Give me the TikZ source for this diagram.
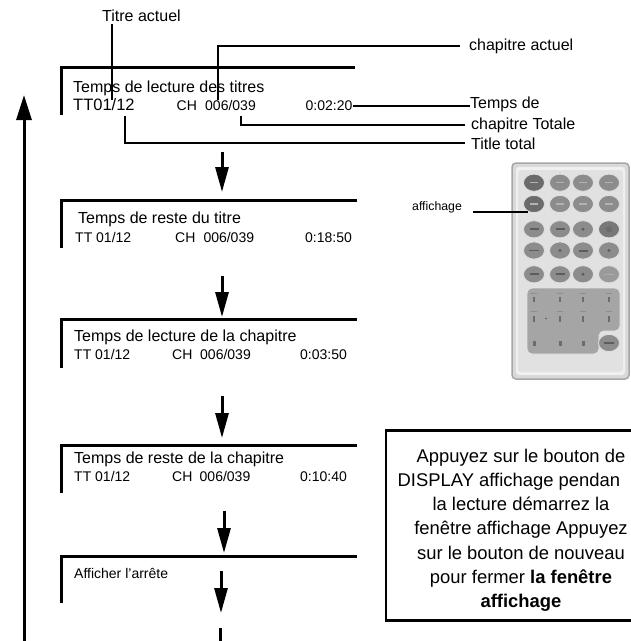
\documentclass[tikz,border=0pt]{standalone}
\usepackage{fontspec}
\setmainfont{Liberation Sans}
\usetikzlibrary{arrows.meta,calc}

\definecolor{bodygray}{HTML}{D9D9D9}
\definecolor{rimgray}{HTML}{A6A6A6}
\definecolor{btndark}{HTML}{6B6B6B}
\definecolor{btnmid}{HTML}{8C8C8C}
\definecolor{btnlight}{HTML}{9A9A9A}
\definecolor{padgray}{HTML}{A5A5A5}
\definecolor{markgray}{HTML}{5C5C5C}

\tikzset{
  panelline/.style={line width=3pt, line join=miter},
  lead/.style={line width=2pt},
  flow/.style={line width=3pt, -{Triangle[length=25pt,width=13pt]}},
  loopflow/.style={line width=3pt, -{Triangle[length=25pt,width=15pt]}},
  title/.style={inner sep=0pt, anchor=base west, font=\fontsize{16}{19}\selectfont},
  readout/.style={inner sep=0pt, anchor=base west, font=\fontsize{14}{17}\selectfont},
  small/.style={inner sep=0pt, anchor=base west, font=\fontsize{12.3}{15}\selectfont},
  noteline/.style={inner sep=0pt, anchor=base, font=\fontsize{18.4}{22}\selectfont},
  btn/.style={draw=white!75!gray, line width=0.8pt},
}

\begin{document}
\begin{tikzpicture}[x=1pt, y=-1pt]
\path[use as bounding box] (0,0) rectangle (631,641);

% ---------- display panels (top and left edges only) ----------
\draw[panelline] (61,115)   -- (61,67.7)  -- (355,67.7);
\draw[panelline] (61,248.3) -- (61,200.7) -- (357,200.7);
\draw[panelline] (61,367.7) -- (61,319.5) -- (357,319.5);
\draw[panelline] (61,493.3) -- (61,445.3) -- (357,445.3);
\draw[panelline] (61,603.3) -- (61,556.7) -- (357,556.7);

% panel 1
\node[title] (p1head) at (73,92) {Temps de lecture des titres};
\node[inner sep=0pt, anchor=base west, font=\fontsize{16.5}{19}\selectfont] (p1tt) at (73,110.5) {TT01/12};
\node[readout] (p1ch) at (176.5,110.5) {CH};
\node[readout] (p1chn) at (205,110.5) {006/039};
\node[readout] (p1time) at (305.5,110.5) {0:02:20};

% panel 2
\node[title] (p2head) at (78,223) {Temps de reste du titre};
\node[readout] (p2tt) at (75,242.3) {TT 01/12};
\node[readout] (p2ch) at (175,242.3) {CH};
\node[readout] (p2chn) at (203.3,242.3) {006/039};
\node[readout] (p2time) at (305,242.3) {0:18:50};

% panel 3
\node[title] (p3head) at (74,341) {Temps de lecture de la chapitre};
\node[readout] (p3tt) at (74,359.3) {TT 01/12};
\node[readout] (p3ch) at (172,359.3) {CH};
\node[readout] (p3chn) at (200,359.3) {006/039};
\node[readout] (p3time) at (300,359.3) {0:03:50};

% panel 4
\node[title] (p4head) at (74,463) {Temps de reste de la chapitre};
\node[readout] (p4tt) at (74,481.3) {TT 01/12};
\node[readout] (p4ch) at (172,481.3) {CH};
\node[readout] (p4chn) at (199.5,481.3) {006/039};
\node[readout] (p4time) at (300,481.3) {0:10:40};

% panel 5
\node[readout] (p5head) at (74,578) {Afficher l'arrête};

% ---------- callouts on panel 1 ----------
\node[title] (lblTitre)  at (102,21)  {Titre actuel};
\node[title] (lblChap)   at (469,50)  {chapitre actuel};
\node[title] (lblTemps)  at (470,108) {Temps de};
\node[title] (lblTot)    at (471,129) {chapitre Totale};
\node[title] (lblTitle)  at (471,149) {Title total};

\coordinate (ttmark)  at (112,100);
\coordinate (chmark)  at (218,100);
\coordinate (totmark) at (241,115.5);
\coordinate (ttlmark) at (125,115.5);

\draw[lead] ([yshift=-3pt]lblTitre.south -| ttmark) -- (ttmark);
\draw[lead] (chmark) |- ([xshift=-9pt]lblChap.west);
\draw[lead] (p1time.east) -- (p1time.east -| lblTemps.west);
\draw[lead] (totmark) |- ([xshift=-6pt]lblTot.west);
\draw[lead] (ttlmark) |- ([xshift=-6pt]lblTitle.west);

% ---------- sequence arrows ----------
\coordinate (a1s) at (222,152);   \coordinate (a1e) at (222,192);
\coordinate (a2s) at (222,276);   \coordinate (a2e) at (222,317);
\coordinate (a3s) at (222,396);   \coordinate (a3e) at (222,438);
\coordinate (a4s) at (224,511);   \coordinate (a4e) at (224,553);
\coordinate (a5s) at (221,571);   \coordinate (a5e) at (221,613);
\coordinate (a6s) at (220,628);   \coordinate (a6e) at (220,641);
\draw[flow] (a1s) -- (a1e);
\draw[flow] (a2s) -- (a2e);
\draw[flow] (a3s) -- (a3e);
\draw[flow] (a4s) -- (a4e);
\draw[flow] (a5s) -- (a5e);
\draw[line width=3pt] (a6s) -- (a6e);

% return arrow on the left
\coordinate (loopfoot) at (24,641);
\coordinate (loophead) at (24,95);
\draw[loopflow] (loopfoot) -- (loophead);

% ---------- remote control ----------
\draw[fill=bodygray, draw=rimgray, line width=1.5pt, rounded corners=4pt]
  (512,163) rectangle (629,379);
\fill[white!88!gray, rounded corners=3pt] (516,167) rectangle (625,375);
\fill[bodygray!80!white, rounded corners=3pt] (518,170) rectangle (623,372);

% round keys, five rows of four
\foreach \y [count=\r] in {182.7,204,229.3,250.5,274.3}{
  \foreach \x [count=\c] in {534,560,583,609}{
    \pgfmathsetmacro\shade{ifthenelse(\c==1 && \r<3, 1, ifthenelse(\c==4 && \r==3, 2, ifthenelse(\c==4 && \r==5, 3, 0)))}
    \ifnum\shade=1 \def\kc{btndark}\else\ifnum\shade=2 \def\kc{btndark!60!btnmid}\else\ifnum\shade=3 \def\kc{btnlight}\else\def\kc{btnmid}\fi\fi\fi
    \fill[btn, fill=\kc] (\x,\y) ellipse [x radius=10.5, y radius=8.6];
  }
}
\coordinate (dispbtn) at (534,204);

% glyphs on the keys
\foreach \x/\y in {534/182.7,560/182.7,583/182.7,609/182.7,534/204,560/204,583/204,609/204}
  \fill[gray!60] (\x-4,\y-0.7) rectangle (\x+4,\y+0.7);
\foreach \x/\y in {534/229.3,560/229.3,560/274.3,534/274.3,583/250.5}
  {\fill[markgray] (\x-4.5,\y-1) rectangle (\x+4.5,\y+1);}
\foreach \x/\y in {583/229.3,560/250.5,609/250.5,583/274.3}
  {\fill[markgray] (\x,\y) circle [radius=1.6];}
\fill[markgray] (534-5,250.5-0.8) rectangle (534+5,250.5+0.8);
\fill[btndark] (609,229.3) circle [radius=3];
\fill[gray!65] (609-5,274.3-0.7) rectangle (609+5,274.3+0.7);

% numeric pad
\fill[padgray, draw=white!80!gray, line width=0.8pt, rounded corners=5pt]
  (527,288) -- (620,288) -- (620,331) -- (599,331) -- (599,354) -- (527,354) -- cycle;
\foreach \x in {534,560,583,609}{
  \fill[markgray!70] (\x-3,292.5) rectangle (\x+3,293.8);
  \fill[markgray!90] (\x-1.2,296.5) rectangle (\x+1.2,301.5);
  \fill[markgray!70] (\x-3,310.5) rectangle (\x+3,311.8);
  \fill[markgray!90] (\x-1.2,316) rectangle (\x+1.2,322);
}
\fill[markgray] (546,318.5) circle [radius=0.9];
\foreach \x in {534,560,583}
  \fill[markgray!90] (\x-1.5,340.5) rectangle (\x+1.5,345.5);
\fill[btn, fill=btnmid] (609,343) ellipse [x radius=10.5, y radius=8.6];
\fill[markgray] (609-5,343-0.8) rectangle (609+5,343+0.8);

% label for the display key
\node[small] (lblDisp) at (412,210.7) {affichage};
\coordinate (dispend) at ($(dispbtn)+(-6,8)$);
\draw[line width=2.5pt] (lblDisp.east |- dispend) ++(11,0) -- (dispend);

% ---------- instruction box (open towards the right edge) ----------
\draw[line width=2.6pt, line join=miter] (632,430.5) -- (386,430.5) -- (386,620.5) -- (632,620.5);
\node[noteline] (n1) at (521,462)   {Appuyez sur le bouton de};
\node[noteline, anchor=base west] (n2) at (397.5,486.3) {DISPLAY affichage pendan};
\node[noteline] (n3) at (521,510.6) {la lecture démarrez la};
\node[noteline] (n4) at (521,534.9) {fenêtre affichage Appuyez};
\node[noteline] (n5) at (521,559.2) {sur le bouton de nouveau};
\node[noteline] (n6) at (521,583.5) {pour fermer \textbf{la fenêtre}};
\node[noteline] (n7) at (521,607.8) {\textbf{affichage}};

\end{tikzpicture}
\end{document}
